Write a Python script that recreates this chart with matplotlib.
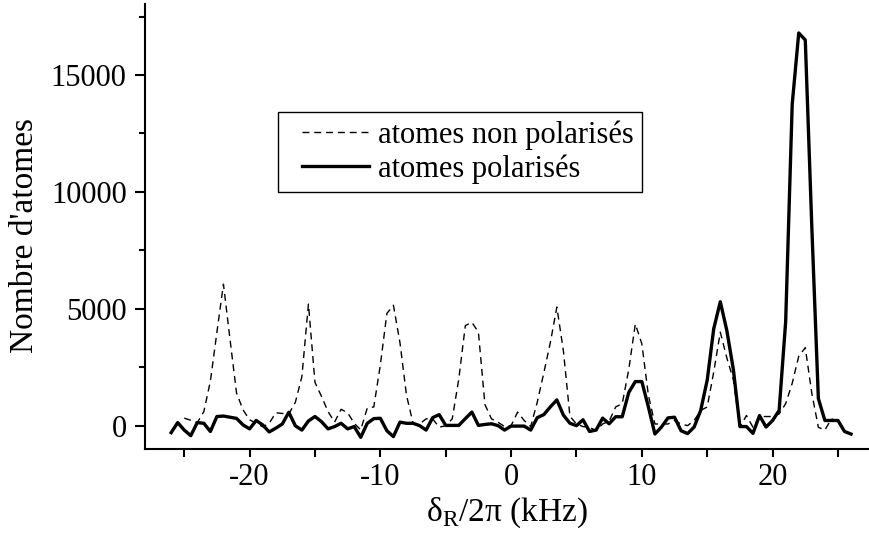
import numpy as np
import matplotlib
matplotlib.use("Agg")
import matplotlib.pyplot as plt
from matplotlib.ticker import MultipleLocator, FixedLocator
from matplotlib.patches import Rectangle

plt.rcParams["font.family"] = ["Liberation Serif", "DejaVu Serif"]
plt.rcParams["mathtext.fontset"] = "custom"
plt.rcParams["mathtext.rm"] = "Liberation Serif"
plt.rcParams["axes.unicode_minus"] = False

# frequency grids (kHz), sampled every 0.5 kHz
freq_pol = np.arange(-26, 26.01, 0.5)
freq_nonpol = np.arange(-25, 25.01, 0.5)

# atomes polarisés (-26 ... 26)
n_pol = [
    -300, 130, -190, -430, 130, 100, -250, 390, 410, 360,
    310, 30, -140, 220, 30, -270, -110, 70, 570, -10,
    -190, 200, 390, 170, -140, -40, 100, -140, -40, -500,
    100, 300, 315, -220,
    -470, 150, 100, 100, 0, -190, 340, 470, 10, 10,
    10, 300, 580, 10, 50, 80, 0, -190, -20, -20,
    -20, -190, 340, 470, 800, 1100, 450, 100, 0, 250,
    -250, -190, 320, 80, 380, 380, 1420, 1885, 1885, 800,
    -360, -60, 330, 360, -220, -340, -60, 650, 1950, 4150,
    5300, 4070, 2400, -40, -40, -330, 430, -60, 220, 650,
    4450, 13750, 16800, 16500, 8500, 1160, 220, 220, 220, -250,
    -360,
]

# atomes non polarisés (-25 ... 25)
n_nonpol = [
    320, 230, 130, 600, 1900, 4000, 6050, 3700, 1400, 670,
    250, 100, -50, 100, 550, 520, 500, 1000, 2100, 5200,
    1850, 1250, 600, 150, 700, 550, 100, -180, 750, 800,
    2600, 4800,
    5150, 3550, 1300, 100, 70, 290, 290, -70, 0, 290,
    2000, 4280, 4420, 4000, 900, 290, 145, -40, 0, 580,
    220, -40, 1000, 2250, 3550, 5075, 3200, 400, 70, -40,
    -70, -220, 70, 190, 800, 940, 2400, 4350, 3500, 1300,
    70, 70, 70, 220, 70, 0, 220, 650, 800, 2300,
    4000, 2900, 1960, -70, 435, -70, 390, 390, 390, 500,
    940, 1810, 2970, 3335, 1380, -70, -190, 290, 190,
]

W, H = 870, 536
fig = plt.figure(figsize=(W / 100, H / 100), dpi=100)
ax = fig.add_axes([145 / W, 1 - 449 / H, 725 / W, 445 / H])

ax.plot(freq_nonpol, n_nonpol, color="black", lw=1.0, ls=(0, (5, 3.5)),
        label="atomes non polarisés")
ax.plot(freq_pol, n_pol, color="black", lw=2.4, label="atomes polarisés")

ax.set_xlim(-28, 27.45)
ax.set_ylim(-1000, 18040)

ax.spines["top"].set_visible(False)
ax.spines["right"].set_visible(False)
for s in ("left", "bottom"):
    ax.spines[s].set_linewidth(1.5)

ax.xaxis.set_major_locator(FixedLocator([-20, -10, 0, 10, 20]))
ax.xaxis.set_minor_locator(FixedLocator([-25, -15, -5, 5, 15, 25]))
ax.yaxis.set_major_locator(MultipleLocator(5000))
ax.yaxis.set_minor_locator(FixedLocator([2500, 7500, 12500, 17500]))

ax.tick_params(axis="x", which="both", direction="out", length=6, width=1.5,
               labelsize=22, pad=4)
ax.tick_params(axis="y", which="major", direction="out", length=7.2, width=1.5,
               labelsize=22, pad=6)
ax.tick_params(axis="y", which="minor", direction="out", length=4, width=1.5)

ax.set_xlabel("δ$_{\\mathrm{R}}$/2π (kHz)", fontsize=24)
ax.set_ylabel("Nombre d'atomes", fontsize=24)
ax.xaxis.set_label_coords(0.5, -0.105)
ax.yaxis.set_label_coords(-0.145, 0.48)

# legend box drawn separately
fig.patches.append(Rectangle((278 / W, 1 - 192 / H), (642 - 278) / W, 80 / H,
                             transform=fig.transFigure, fill=False,
                             edgecolor="black", lw=1.0))
ax.legend(loc="upper left", bbox_to_anchor=(302 / W, 1 - 120 / H),
          bbox_transform=fig.transFigure, frameon=False, fontsize=22,
          handlelength=2.2, handletextpad=0.3, borderpad=0, borderaxespad=0,
          labelspacing=0.15)

fig.savefig("out.png", dpi=100)
